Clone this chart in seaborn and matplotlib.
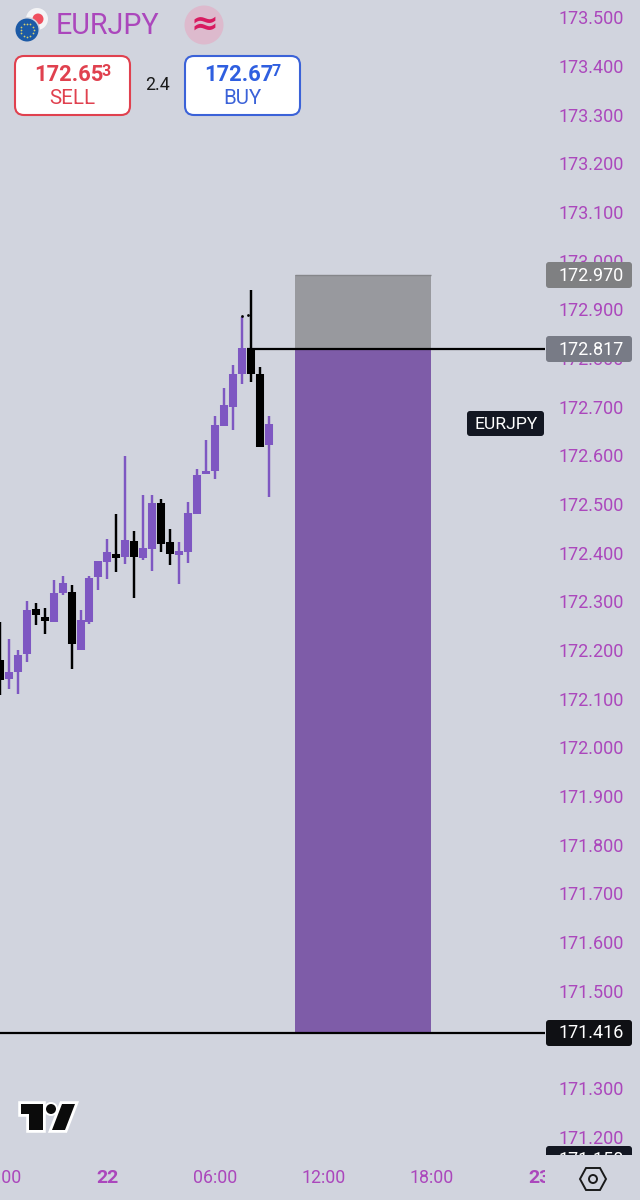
import numpy as np
import pandas as pd
import matplotlib
matplotlib.use("Agg")
import matplotlib.pyplot as plt
import seaborn as sns
from matplotlib.patches import Circle, FancyBboxPatch, Polygon
from matplotlib.transforms import Bbox, IdentityTransform, ScaledTranslation, TransformedBbox

# 30 minute candles, hours counted from the "22" tick
hours = [-6.0, -5.5, -5.0, -4.5, -4.0, -3.5, -3.0, -2.5, -2.0, -1.5, -1.0, -0.5, 0.0, 0.5, 1.0, 1.5,
         2.0, 2.5, 3.0, 3.5, 4.0, 4.5, 5.0, 5.5, 6.0, 6.5, 7.0, 7.5, 8.0, 8.5, 9.0]
opens = [172.182, 172.143, 172.157, 172.194, 172.286, 172.270, 172.260, 172.319, 172.321, 172.202, 172.260,
         172.352, 172.383, 172.400, 172.393, 172.426, 172.391, 172.410, 172.504, 172.424, 172.397, 172.404,
         172.482, 172.564, 172.570, 172.663, 172.702, 172.769, 172.821, 172.769, 172.623]
closes = [172.141, 172.157, 172.192, 172.284, 172.274, 172.262, 172.319, 172.340, 172.215, 172.264, 172.350,
          172.385, 172.404, 172.391, 172.428, 172.393, 172.412, 172.504, 172.420, 172.400, 172.406, 172.484,
          172.562, 172.570, 172.665, 172.706, 172.769, 172.823, 172.769, 172.619, 172.667]
highs = [172.260, 172.225, 172.202, 172.303, 172.299, 172.289, 172.346, 172.354, 172.336, 172.284, 172.354,
         172.385, 172.430, 172.482, 172.601, 172.447, 172.521, 172.521, 172.513, 172.451, 172.424, 172.506,
         172.574, 172.634, 172.683, 172.741, 172.788, 172.887, 172.942, 172.784, 172.683]
lows = [172.110, 172.122, 172.112, 172.178, 172.254, 172.235, 172.260, 172.315, 172.163, 172.202, 172.256,
        172.326, 172.348, 172.363, 172.379, 172.309, 172.387, 172.365, 172.404, 172.377, 172.338, 172.381,
        172.482, 172.564, 172.554, 172.663, 172.654, 172.749, 172.753, 172.619, 172.517]

y_ticks = [173.5, 173.4, 173.3, 173.2, 173.1, 173.0, 172.9, 172.8, 172.7, 172.6, 172.5, 172.4, 172.3,
           172.2, 172.1, 172.0, 171.9, 171.8, 171.7, 171.6, 171.5, 171.4, 171.3, 171.2]
x_ticks = [-6, 0, 6, 12, 18, 24]
x_labels = ["18:00", "22", "06:00", "12:00", "18:00", "23"]

box_hours = [10.44, 18.0]
stop_level = 172.973
entry_level = 172.820
target_level = 171.416
dot_hours = [7.5, 7.83]
dot_prices = [172.889, 172.891]

BG = "#D1D4DE"
PURPLE = "#7E57C2"
TEXT = "#AB47BC"

sns.set_theme(style="white")
plt.rcParams["font.family"] = ["Roboto", "DejaVu Sans"]

candles = pd.DataFrame({"hour": hours, "open": opens, "close": closes, "high": highs, "low": lows})
candles["candle"] = candles.index
candles["direction"] = np.where(candles["close"] >= candles["open"], "up", "down")
palette = {"up": PURPLE, "down": "black"}
wicks = candles.melt(id_vars=["hour", "candle", "direction"], value_vars=["high", "low"], value_name="price")
bodies = candles.melt(id_vars=["hour", "candle", "direction"], value_vars=["open", "close"], value_name="price")

fig = plt.figure(figsize=(6.4, 12), dpi=100, facecolor=BG)
# price pane runs off the left edge, ends at the axis column and above the time row
ax = fig.add_axes([-30 / 640, 40 / 1200, 575 / 640, 1160 / 1200], facecolor=BG)

ax.fill_between(box_hours, target_level, entry_level, color="#7E5CA8", lw=0, zorder=1)
ax.fill_between(box_hours, entry_level, stop_level, color="#98999E", lw=0, zorder=1)
ax.hlines(stop_level, box_hours[0], box_hours[1], color="#85868A", lw=1, zorder=1.1)
ax.hlines(entry_level, 7.75, 24.31, color="black", lw=1.6, zorder=1.5)
ax.hlines(target_level, -7.64, 24.31, color="black", lw=1.6, zorder=1.5)

sns.lineplot(data=wicks, x="hour", y="price", hue="direction", units="candle", estimator=None, sort=False,
             palette=palette, lw=1.75, legend=False, ax=ax, solid_capstyle="butt", zorder=2)
sns.lineplot(data=bodies, x="hour", y="price", hue="direction", units="candle", estimator=None, sort=False,
             palette=palette, lw=5.8, legend=False, ax=ax, solid_capstyle="butt", zorder=2)
sns.scatterplot(x=dot_hours, y=dot_prices, color="black", s=4, lw=0, ax=ax, zorder=2)

ax.set_xlim(-7.639, 24.306)
ax.set_ylim(171.154, 173.538)
ax.set_xlabel("")
ax.set_ylabel("")
ax.yaxis.tick_right()
ax.set_yticks(y_ticks, [f"{v:.3f}" for v in y_ticks])
ax.set_xticks(x_ticks, x_labels)
ax.tick_params(axis="y", length=0, pad=10, labelsize=13, labelcolor=TEXT)
ax.tick_params(axis="x", length=0, pad=6.5, labelsize=12.8, labelcolor=TEXT)
sns.despine(ax=ax, left=True, right=True, top=True, bottom=True)

nudge_up = ScaledTranslation(0, 1 / 100, fig.dpi_scale_trans)
for lab in ax.get_yticklabels():
    lab.set_transform(lab.get_transform() + nudge_up)

clip_pane = TransformedBbox(Bbox([[0, 0], [545, 1200]]), IdentityTransform())
for lab in ax.get_xticklabels():
    lab.set_clip_box(clip_pane)
    lab.set_clip_on(True)
    if lab.get_text() in ("22", "23"):
        lab.set_fontweight("bold")
        lab.set_fontsize(14)

# overlay in screen pixels for the app chrome
ui = fig.add_axes([0, 0, 1, 1], facecolor="none")
ui.set_xlim(0, 640)
ui.set_ylim(1200, 0)
ui.axis("off")


def rbox(x0, y0, x1, y1, color, edge="none", lw=0, r=3):
    return ui.add_patch(FancyBboxPatch((x0 + r, y0 + r), x1 - x0 - 2 * r, y1 - y0 - 2 * r,
                                       boxstyle=f"round,pad={r},rounding_size={r}", fc=color, ec=edge, lw=lw))


# price tags
rbox(546, 262, 632, 288, "#7F8082")
ui.text(591, 276, "172.970", color="white", fontsize=13, ha="center", va="center")
rbox(546, 336, 632, 362, "#787B86")
ui.text(591, 350, "172.817", color="white", fontsize=13, ha="center", va="center")
rbox(467, 411, 544, 436, "#131722")
ui.text(506, 424.5, "EURJPY", color="white", fontsize=12.6, ha="center", va="center")
rbox(546, 1020, 632, 1046, "#0F1014")
ui.text(591, 1033, "171.416", color="white", fontsize=13, ha="center", va="center")
# the last tag is cut by the time row
cut_tag = TransformedBbox(Bbox([[546, 1200 - 1155], [632, 1200 - 1146]]), IdentityTransform())
tag = rbox(546, 1146, 632, 1170, "#131722")
tag.set_clip_box(cut_tag)
tag.set_clip_on(True)
tag_text = ui.text(591, 1160, "171.150", color="white", fontsize=13, ha="center", va="center")
tag_text.set_clip_box(cut_tag)
tag_text.set_clip_on(True)

# header
ui.add_patch(Circle((37, 19), 11, fc="#F4F4F6", ec="none"))
ui.add_patch(Circle((38, 19), 5.5, fc="#F0505F", ec="none"))
ui.add_patch(Circle((27, 30), 13, fc=BG, ec="none"))
ui.add_patch(Circle((27, 30), 11.5, fc="#1C5AA6", ec="none"))
star_angles = [0, 30, 60, 90, 120, 150, 180, 210, 240, 270, 300, 330]
ui.scatter([27 + 6.5 * np.cos(np.radians(a)) for a in star_angles],
           [30 + 6.5 * np.sin(np.radians(a)) for a in star_angles], s=1.6, color="#D8CF6A", lw=0)
ui.text(56, 26, "EURJPY", color=TEXT, fontsize=20.6, ha="left", va="center")
ui.add_patch(Circle((204, 25), 19.5, fc="#DDBACD", ec="none"))
ui.text(204, 24, "≈", color="#D81B60", fontsize=24, fontweight="bold", family="DejaVu Sans", ha="center", va="center")

rbox(15, 56, 130, 115, "white", "#E0414F", 1.5, r=9)
ui.text(34.5, 75, "172.65", color="#E0414F", fontsize=15.8, fontweight="bold", ha="left", va="center")
ui.text(102, 71, "3", color="#E0414F", fontsize=11.5, fontweight="bold", ha="left", va="center")
ui.text(72.5, 99, "SELL", color="#E0414F", fontsize=14.8, ha="center", va="center")
ui.text(157.5, 85.5, "2.4", color="#1A1A1A", fontsize=12.8, ha="center", va="center")
rbox(185, 56, 300, 115, "white", "#3B62D8", 1.5, r=9)
ui.text(204.5, 75, "172.67", color="#2F5FE0", fontsize=15.8, fontweight="bold", ha="left", va="center")
ui.text(272, 71, "7", color="#2F5FE0", fontsize=11.5, fontweight="bold", ha="left", va="center")
ui.text(242, 99, "BUY", color="#3B62D8", fontsize=14.8, ha="center", va="center")

# TradingView logo
logo_t = [(21, 1104), (43, 1104), (43, 1130), (29, 1130), (29, 1114), (21, 1114)]
logo_s = [(62, 1104), (75, 1104), (65, 1130), (52, 1130)]
for pts in (logo_t, logo_s):
    ui.add_patch(Polygon(pts, fc="white", ec="white", lw=4, joinstyle="miter"))
ui.add_patch(Circle((51, 1109), 7, fc="white", ec="none"))
for pts in (logo_t, logo_s):
    ui.add_patch(Polygon(pts, fc="#0B0B0B", ec="none"))
ui.add_patch(Circle((51, 1109), 5, fc="#0B0B0B", ec="none"))

# settings hexagon
hex_pts = [(580, 1179), (586, 1168), (600, 1168), (606, 1179), (600, 1190), (586, 1190)]
ui.add_patch(Polygon(hex_pts, fc="none", ec="#1A1A1A", lw=1.4))
ui.add_patch(Circle((593, 1179), 4, fc="none", ec="#1A1A1A", lw=1.4))

fig.savefig("out.png", dpi=100, facecolor=BG)
